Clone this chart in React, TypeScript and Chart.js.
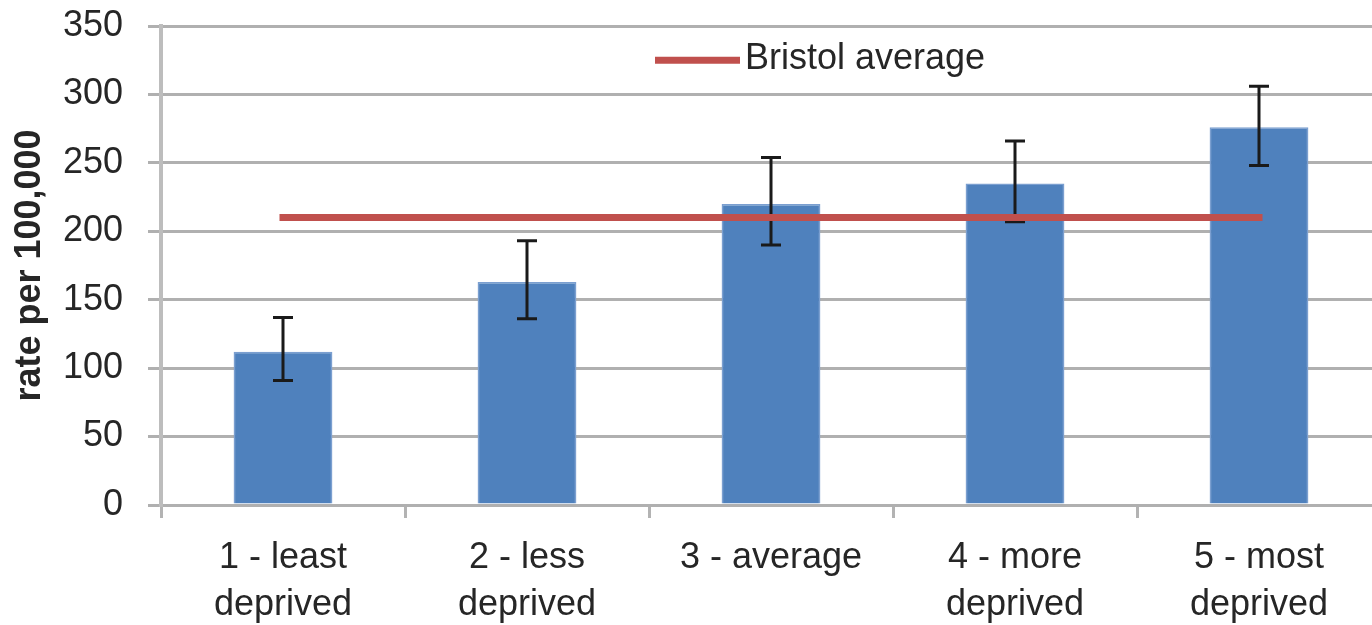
import React, { useEffect, useRef } from "react";
import { Chart, registerables } from "chart.js";

Chart.register(...registerables);

const categories: string[][] = [
  ["1 - least", "deprived"],
  ["2 - less", "deprived"],
  ["3 - average"],
  ["4 - more", "deprived"],
  ["5 - most", "deprived"],
];
const rates = [112, 163, 220, 235, 276];
const errLow = [91, 136, 190, 207, 248];
const errHigh = [137, 193, 254, 266, 306];
const bristolAverage = [210, 210, 210, 210, 210];
const yMin = 0;
const yMax = 350;
const yStep = 50;
const yTitle = "rate per 100,000";
const averageLabel = "Bristol average";

const FONT = "'Liberation Sans', Arial, sans-serif";
const TEXT = "#262626";

const errorBarPlugin = {
  id: "errorBars",
  afterDatasetDraw(chart: any, args: any) {
    if (args.index !== 0) return;
    const meta = chart.getDatasetMeta(0);
    const ys = chart.scales.y;
    const ctx = chart.ctx;
    ctx.save();
    ctx.strokeStyle = "#1a1a1a";
    ctx.lineWidth = 3;
    meta.data.forEach((el: any, i: number) => {
      const x = el.x;
      const yt = ys.getPixelForValue(errHigh[i]);
      const yb = ys.getPixelForValue(errLow[i]);
      ctx.beginPath();
      ctx.moveTo(x, yt);
      ctx.lineTo(x, yb);
      ctx.moveTo(x - 10, yt);
      ctx.lineTo(x + 10, yt);
      ctx.moveTo(x - 10, yb);
      ctx.lineTo(x + 10, yb);
      ctx.stroke();
    });
    ctx.restore();
  },
};

const insideLegendPlugin = {
  id: "insideLegend",
  afterDraw(chart: any) {
    const ds = chart.data.datasets[1];
    const ctx = chart.ctx;
    const area = chart.chartArea;
    const y = chart.scales.y.getPixelForValue(325);
    const x0 = area.left + 494;
    ctx.save();
    ctx.strokeStyle = ds.borderColor;
    ctx.lineWidth = 7;
    ctx.beginPath();
    ctx.moveTo(x0, y);
    ctx.lineTo(x0 + 85, y);
    ctx.stroke();
    ctx.fillStyle = TEXT;
    ctx.font = `36px ${FONT}`;
    ctx.textBaseline = "middle";
    ctx.textAlign = "left";
    ctx.fillText(ds.label, x0 + 90, y - 1);
    ctx.restore();
  },
};

export default function App() {
  const ref = useRef<HTMLCanvasElement | null>(null);

  useEffect(() => {
    if (!ref.current) return;
    const chart = new Chart(ref.current, {
      type: "bar",
      data: {
        labels: categories,
        datasets: [
          {
            type: "bar",
            label: "rate",
            data: rates,
            backgroundColor: "#4f81bd",
            borderColor: "#7b9fd0",
            borderWidth: 1.5,
            barPercentage: 0.405,
            categoryPercentage: 1,
            order: 2,
          } as any,
          {
            type: "line",
            label: averageLabel,
            data: bristolAverage,
            borderColor: "#c0504d",
            backgroundColor: "#c0504d",
            borderWidth: 7,
            pointRadius: 0,
            borderCapStyle: "square",
            order: 1,
          } as any,
        ],
      },
      options: {
        animation: false,
        responsive: true,
        maintainAspectRatio: false,
        layout: { padding: { top: 26, right: 9, left: 0, bottom: 0 } },
        plugins: {
          legend: { display: false },
          tooltip: { enabled: false },
        },
        scales: {
          x: {
            offset: true,
            grid: {
              offset: true,
              drawOnChartArea: false,
              drawTicks: true,
              tickLength: 13,
              color: "#b3b3b3",
              lineWidth: 3,
            },
            border: { display: false },
            ticks: {
              color: TEXT,
              font: { family: FONT, size: 36, lineHeight: 1.3 },
              padding: 17,
              maxRotation: 0,
              autoSkip: false,
            },
            afterFit: (scale: any) => {
              scale.height = 120;
              scale.paddingLeft = 0;
              scale.paddingRight = 0;
            },
          },
          y: {
            min: yMin,
            max: yMax,
            ticks: {
              stepSize: yStep,
              color: TEXT,
              font: { family: FONT, size: 36 },
              padding: 25,
            },
            grid: {
              color: "#b0b0b0",
              lineWidth: 3,
              drawTicks: true,
              tickLength: 13,
            },
            border: { display: true, color: "#bdbdbd", width: 4 },
            title: {
              display: true,
              text: yTitle,
              color: TEXT,
              font: { family: FONT, size: 36, weight: "bold" },
              padding: { top: 8, bottom: 0 },
            },
            afterFit: (scale: any) => {
              scale.width = 161;
              scale.paddingTop = 0;
              scale.paddingBottom = 0;
            },
          },
        },
      },
      plugins: [errorBarPlugin, insideLegendPlugin],
    });
    return () => chart.destroy();
  }, []);

  return (
    <div
      style={{
        position: "fixed",
        left: 0,
        top: 0,
        width: 1372,
        height: 625,
        overflow: "hidden",
        background: "#fff",
      }}
    >
      <div style={{ position: "relative", width: 1390, height: 625 }}>
        <canvas ref={ref} />
      </div>
    </div>
  );
}
